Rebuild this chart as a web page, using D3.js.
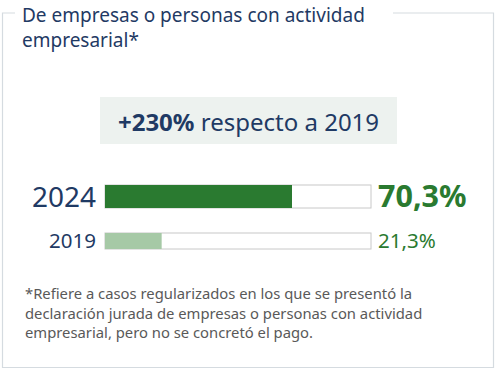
<!DOCTYPE html>
<html>
<head>
<meta charset="utf-8">
<script src="https://cdn.jsdelivr.net/npm/d3@7"></script>
<style>
  body { margin: 0; background: #fff; }
  text { font-family: "Noto Sans", "Open Sans", sans-serif; }
</style>
</head>
<body>
<svg class="chart"></svg>
<script>
// Chart data
var years = ["2024", "2019"];
var shares = [70.3, 21.3];
var shareLabels = ["70,3%", "21,3%"];
var titleLines = ["De empresas o personas con actividad", "empresarial*"];
var noteLines = [
    "*Refiere a casos regularizados en los que se presentó la",
    "declaración jurada de empresas o personas con actividad",
    "empresarial, pero no se concretó el pago."
];

var width = 497;
var height = 371;
var navy = "#1f3a64";
var green = "#2a7a30";

var canvas = d3.select(".chart")
    .attr("width", width)
    .attr("height", height);

// Frame with gap for the title
canvas.append("path")
    .attr("d", "M15,13 H2.5 V367.5 H493.5 V13 H393")
    .attr("fill", "none")
    .attr("stroke", "#d5dbe0")
    .attr("stroke-width", 1.2);

// Title
canvas.append("g").selectAll("text")
    .data(titleLines)
    .enter().append("text")
    .attr("x", 22)
    .attr("y", function(d, i) { return 22 + i * 25; })
    .attr("fill", navy)
    .attr("font-size", 19)
    .text(function(d) { return d; });

// Highlight box
canvas.append("rect")
    .attr("x", 100).attr("y", 97)
    .attr("width", 297).attr("height", 47)
    .attr("fill", "#edf2ef");

var headline = canvas.append("text")
    .attr("x", 248.5).attr("y", 131)
    .attr("text-anchor", "middle")
    .attr("fill", navy)
    .attr("font-size", 24);
headline.append("tspan").attr("font-weight", "bold").text("+230%");
headline.append("tspan").text(" respecto a 2019");

// Scales
var xScale = d3.scaleLinear().domain([0, 100]).range([105, 371]);
var rows = [
    { y: 185, h: 23, labelSize: 28, valueSize: 30.5, bold: true, fill: green },
    { y: 233, h: 16, labelSize: 20.5, valueSize: 20.5, bold: false, fill: "#a6c9a6" }
];

var bar = canvas.selectAll("g.bar")
    .data(years)
    .enter().append("g")
    .attr("class", "bar");

// Outline track
bar.append("rect")
    .attr("x", xScale(0))
    .attr("y", function(d, i) { return rows[i].y; })
    .attr("width", xScale(100) - xScale(0))
    .attr("height", function(d, i) { return rows[i].h; })
    .attr("fill", "#fff")
    .attr("stroke", "#c8c8c8")
    .attr("stroke-width", 1);

// Value fill
bar.append("rect")
    .attr("x", xScale(0))
    .attr("y", function(d, i) { return rows[i].y; })
    .attr("width", function(d, i) { return xScale(shares[i]) - xScale(0); })
    .attr("height", function(d, i) { return rows[i].h; })
    .attr("fill", function(d, i) { return rows[i].fill; });

// Year labels
bar.append("text")
    .attr("x", 96)
    .attr("y", function(d, i) { return rows[i].y + rows[i].h / 2; })
    .attr("dy", "0.36em")
    .attr("text-anchor", "end")
    .attr("fill", navy)
    .attr("font-size", function(d, i) { return rows[i].labelSize; })
    .text(function(d) { return d; });

// Value labels
bar.append("text")
    .attr("x", 378)
    .attr("y", function(d, i) { return rows[i].y + rows[i].h / 2; })
    .attr("dy", "0.36em")
    .attr("fill", green)
    .attr("font-weight", function(d, i) { return rows[i].bold ? "bold" : "normal"; })
    .attr("font-size", function(d, i) { return rows[i].valueSize; })
    .text(function(d, i) { return shareLabels[i]; });

// Footnote
canvas.append("g").selectAll("text")
    .data(noteLines)
    .enter().append("text")
    .attr("x", 25)
    .attr("y", function(d, i) { return 299 + i * 19.5; })
    .attr("fill", "#595959")
    .attr("font-size", 14.8)
    .text(function(d) { return d; });
</script>
</body>
</html>
